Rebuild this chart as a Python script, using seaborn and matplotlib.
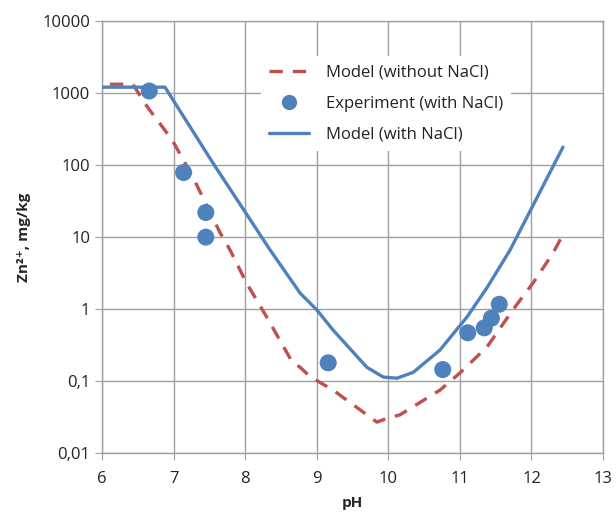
import numpy as np
import pandas as pd
import matplotlib
matplotlib.use("Agg")
import matplotlib.pyplot as plt
import seaborn as sns
from matplotlib.ticker import FixedLocator, FuncFormatter
from matplotlib.lines import Line2D

sns.set_style("white")
plt.rcParams['font.family'] = ['Open Sans', 'DejaVu Sans']

# Model without NaCl (red dashed)
ph_no = [6.11, 6.43, 6.63, 6.98, 7.27, 7.65, 7.79, 8.02, 8.30, 8.65, 8.77, 8.91, 9.23, 9.84, 10.0, 10.16, 10.72, 11.0, 11.38, 11.74, 12.02, 12.3, 12.42]
zn_no = [1330, 1330, 650, 224, 68, 11.5, 6.6, 2.3, 0.78, 0.19, 0.155, 0.115, 0.075, 0.027, 0.031, 0.034, 0.075, 0.13, 0.30, 0.98, 2.3, 6.0, 10.0]

# Model with NaCl (blue solid)
ph_with = [6.0, 6.88, 7.55, 8.35, 8.77, 9.0, 9.23, 9.7, 9.93, 10.12, 10.35, 10.72, 11.1, 11.38, 11.70, 12.44]
zn_with = [1210, 1210, 107, 6.6, 1.66, 0.98, 0.51, 0.156, 0.114, 0.11, 0.133, 0.27, 0.78, 2.0, 6.6, 178]

# Experiment (with NaCl)
ph_exp = [6.66, 7.14, 7.45, 7.45, 9.16, 10.76, 11.11, 11.34, 11.44, 11.55]
zn_exp = [1070, 79, 22, 10, 0.18, 0.145, 0.47, 0.55, 0.75, 1.17]

yticks = [0.01, 0.1, 1, 10, 100, 1000, 10000]
ytick_labels = ["0,01", "0,1", "1", "10", "100", "1000", "10000"]
xticks = [6, 7, 8, 9, 10, 11, 12, 13]

red = "#C0504D"
blue = "#4F81BD"

fig = plt.figure(figsize=(6.16, 5.15), dpi=100)
ax = fig.add_axes([0.1656, 0.12, 0.8134, 0.839])

df_no = pd.DataFrame({"pH": ph_no, "Zn": zn_no})
df_with = pd.DataFrame({"pH": ph_with, "Zn": zn_with})
df_exp = pd.DataFrame({"pH": ph_exp, "Zn": zn_exp})

sns.lineplot(data=df_no, x="pH", y="Zn", ax=ax, color=red, linewidth=2.4,
             dashes=False, sort=False, zorder=3)
ax.lines[-1].set_dashes([4, 3])
sns.scatterplot(data=df_exp, x="pH", y="Zn", ax=ax, color=blue, s=150,
                edgecolor="none", zorder=4)
sns.lineplot(data=df_with, x="pH", y="Zn", ax=ax, color=blue, linewidth=2.4,
             sort=False, zorder=3)

ax.set_yscale("log")
ax.set_xlim(6, 13)
ax.set_ylim(0.01, 10000)
ax.xaxis.set_major_locator(FixedLocator(xticks))
ax.yaxis.set_major_locator(FixedLocator(yticks))
ax.yaxis.set_minor_locator(FixedLocator([]))
ax.yaxis.set_major_formatter(FuncFormatter(lambda v, p: ytick_labels[yticks.index(v)] if v in yticks else ""))
ax.xaxis.set_major_formatter(FuncFormatter(lambda v, p: f"{int(v)}"))

ax.grid(True, which="major", color="#a0a0a0", linewidth=1.0, zorder=0)
ax.set_axisbelow(True)
for s in ax.spines.values():
    s.set_color("#a0a0a0")
    s.set_linewidth(1.0)
ax.tick_params(axis="both", which="major", length=5, color="#a0a0a0",
               labelsize=12, labelcolor="#222222", direction="out",
               left=True, bottom=True)
ax.tick_params(axis="x", pad=8)

ax.set_xlabel("pH", fontsize=11, fontweight="bold", labelpad=6)
ax.set_ylabel("Zn²⁺, mg/kg", fontsize=11, fontweight="bold", labelpad=8)

handles = [
    Line2D([], [], color=red, linewidth=2.4, dashes=[4, 3]),
    Line2D([], [], color=blue, marker="o", linestyle="none", markersize=11, markeredgecolor="none"),
    Line2D([], [], color=blue, linewidth=2.4),
]
labels = ["Model (without NaCl)", "Experiment (with NaCl)", "Model (with NaCl)"]
leg = ax.legend(handles, labels, loc="upper left", bbox_to_anchor=(0.30, 0.9375),
                frameon=True, facecolor="white", edgecolor="none", framealpha=1,
                fontsize=12, handlelength=2.4, labelspacing=0.9, borderpad=0.5,
                handletextpad=1.0)
leg.set_zorder(5)
for t in leg.get_texts():
    t.set_color("#222222")

fig.savefig("out.png", dpi=100)
